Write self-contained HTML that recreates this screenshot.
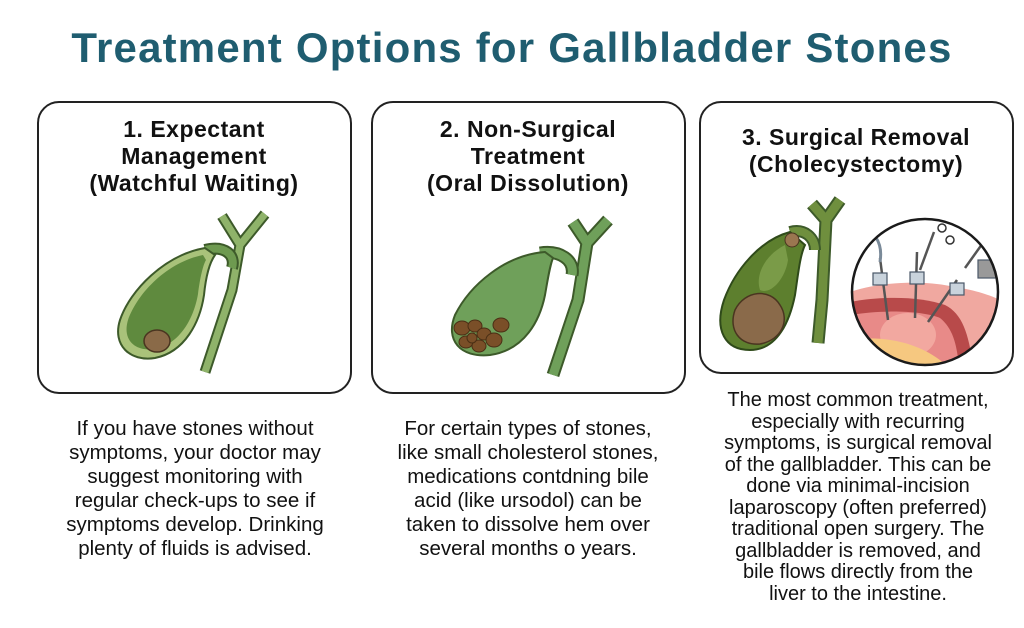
<!DOCTYPE html>
<html><head><meta charset="utf-8"><style>
body{margin:0;width:1024px;height:628px;background:#fff;position:relative;overflow:hidden;font-family:"Liberation Sans",sans-serif;color:#1a1a1a}
h1{position:absolute;left:0;top:24px;width:1024px;margin:0;text-align:center;font-size:42px;font-weight:bold;color:#1f5d70;letter-spacing:1.2px}
.box{position:absolute;border:2px solid #222;border-radius:22px;background:#fff}
.bt{position:absolute;text-align:center;font-size:23px;font-weight:bold;line-height:27px;color:#111;letter-spacing:0.5px}
.tx{position:absolute;text-align:center;font-size:20.5px;line-height:24px;color:#111}
svg{position:absolute;left:0;top:0}
</style></head><body>
<h1>Treatment Options for Gallbladder Stones</h1>
<div class="box" style="left:37px;top:101px;width:311px;height:289px"></div>
<div class="box" style="left:371px;top:101px;width:311px;height:289px"></div>
<div class="box" style="left:699px;top:101px;width:311px;height:269px"></div>
<div class="bt" style="left:38px;top:116px;width:312px">1. Expectant<br>Management<br>(Watchful Waiting)</div>
<div class="bt" style="left:372px;top:116px;width:312px">2. Non-Surgical<br>Treatment<br>(Oral Dissolution)</div>
<div class="bt" style="left:700px;top:124px;width:312px">3. Surgical Removal<br>(Cholecystectomy)</div>
<svg width="1024" height="628">
 <g>
  <path d="M222,216 L240,245 L265,214 M240,245 L232,290 L205,372" fill="none" stroke="#3d5a2a" stroke-width="11"/>
  <path d="M222,216 L240,245 L265,214 M240,245 L232,290 L205,372" fill="none" stroke="#8fb36a" stroke-width="7"/>
  <path d="M205,250 C225,245 236,255 232,268" fill="none" stroke="#3d5a2a" stroke-width="12"/>
  <path d="M205,250 C225,245 236,255 232,268" fill="none" stroke="#6e9a50" stroke-width="8"/>
  <path d="M205,248 C165,255 130,290 120,320 C112,345 130,362 155,358 C185,352 200,322 204,295 C206,275 210,262 215,255 Z" fill="#a9c27a" stroke="#3d5a2a" stroke-width="2"/>
  <path d="M203,255 C168,262 138,292 128,320 C122,340 135,352 155,349 C180,344 194,318 198,294 C200,278 203,265 206,260 Z" fill="#5f8a3e"/>
  <ellipse cx="157" cy="341" rx="13" ry="11" fill="#8a6a48" stroke="#4a3520" stroke-width="1.5"/>
 </g>
 <g>
  <path d="M573,222 L587,243 L608,220 M587,243 L578,300 L553,375" fill="none" stroke="#3d5a2a" stroke-width="13"/>
  <path d="M573,222 L587,243 L608,220 M587,243 L578,300 L553,375" fill="none" stroke="#6fa05a" stroke-width="9"/>
  <path d="M540,253 C560,250 575,260 572,275" fill="none" stroke="#3d5a2a" stroke-width="13"/>
  <path d="M540,253 C560,250 575,260 572,275" fill="none" stroke="#6fa05a" stroke-width="9"/>
  <path d="M545,252 C505,255 470,285 455,315 C445,340 460,358 490,355 C525,350 540,320 545,295 C548,278 550,265 553,258 Z" fill="#6fa05a" stroke="#3d5a2a" stroke-width="2"/>
  <g fill="#7a4f28" stroke="#4a2f15" stroke-width="1">
   <ellipse cx="462" cy="328" rx="8" ry="7"/><ellipse cx="475" cy="326" rx="7" ry="6"/><ellipse cx="484" cy="334" rx="7" ry="6"/>
   <ellipse cx="501" cy="325" rx="8" ry="7"/><ellipse cx="466" cy="342" rx="7" ry="6"/><ellipse cx="479" cy="346" rx="7" ry="6"/>
   <ellipse cx="494" cy="340" rx="8" ry="7"/><ellipse cx="472" cy="338" rx="5" ry="5"/>
  </g>
 </g>
 <g>
  <path d="M812,204 L826,220 L840,200 M826,220 L822,300 L818,343" fill="none" stroke="#3d5a2a" stroke-width="13"/>
  <path d="M812,204 L826,220 L840,200 M826,220 L822,300 L818,343" fill="none" stroke="#6f8f3e" stroke-width="9"/>
  <path d="M790,232 C805,228 815,238 815,250" fill="none" stroke="#3d5a2a" stroke-width="12"/>
  <path d="M790,232 C805,228 815,238 815,250" fill="none" stroke="#6f8f3e" stroke-width="8"/>
  <path d="M790,232 C760,240 735,270 724,300 C714,330 725,350 750,350 C778,350 790,320 795,295 C798,275 800,255 805,245 Z" fill="#5d7f2e" stroke="#2f4a1a" stroke-width="2"/>
  <path d="M785,245 C765,255 755,275 760,290 C770,295 785,280 788,260 Z" fill="#7a9b48"/>
  <path d="M735,310 C745,290 770,288 780,305 C790,320 782,340 760,344 C740,346 728,330 735,310 Z" fill="#8a6a4a" stroke="#4a3520" stroke-width="1.5"/>
  <circle cx="792" cy="240" r="7" fill="#9a7650" stroke="#4a3520"/>
  <clipPath id="c"><circle cx="925" cy="292" r="73"/></clipPath>
  <circle cx="925" cy="292" r="73" fill="#fff"/>
  <g clip-path="url(#c)">
   <path d="M850,292 C880,282 920,280 950,286 C975,290 990,295 1000,300 L1000,380 L850,380 Z" fill="#f0a8a0"/>
   <path d="M850,302 C880,296 920,296 945,305 C965,315 970,340 975,380 L850,380 Z" fill="#b84a4a"/>
   <path d="M850,315 C880,310 920,310 940,318 C955,330 958,350 960,380 L850,380 Z" fill="#e88a88"/>
   <ellipse cx="908" cy="335" rx="28" ry="22" fill="#f2a8a0"/>
   <path d="M850,340 C880,335 930,340 960,380 L850,380 Z" fill="#f6c880"/>
   <g stroke="#555" stroke-width="2.5">
    <line x1="880" y1="258" x2="888" y2="320"/><line x1="917" y1="252" x2="915" y2="318"/><line x1="957" y1="280" x2="928" y2="322"/>
    <line x1="934" y1="232" x2="920" y2="270"/><line x1="965" y1="268" x2="985" y2="240"/>
   </g>
   <path d="M870,230 C880,240 882,250 880,262" fill="none" stroke="#7a8a99" stroke-width="3"/>
   <g fill="#c9d3dc" stroke="#4a5868" stroke-width="1.2">
    <rect x="873" y="273" width="14" height="12"/><rect x="910" y="272" width="14" height="12"/><rect x="950" y="283" width="14" height="12"/>
    <rect x="978" y="260" width="18" height="18" fill="#999"/>
   </g>
   <circle cx="942" cy="228" r="4" fill="none" stroke="#333" stroke-width="1.5"/><circle cx="950" cy="240" r="4" fill="none" stroke="#333" stroke-width="1.5"/>
  </g>
  <circle cx="925" cy="292" r="73" fill="none" stroke="#1a1a1a" stroke-width="2.5"/>
 </g>
</svg>
<div class="tx" style="left:30px;top:417px;width:330px">If you have stones without<br>symptoms, your doctor may<br>suggest monitoring with<br>regular check-ups to see if<br>symptoms develop. Drinking<br>plenty of fluids is advised.</div>
<div class="tx" style="left:360px;top:417px;width:336px">For certain types of stones,<br>like small cholesterol stones,<br>medications contdning bile<br>acid (like ursodol) can be<br>taken to dissolve hem over<br>several months o years.</div>
<div class="tx" style="left:690px;top:390px;width:336px;line-height:21.5px;font-size:20px">The most common treatment,<br>especially with recurring<br>symptoms, is surgical removal<br>of the gallbladder. This can be<br>done via minimal-incision<br>laparoscopy (often preferred)<br>traditional open surgery. The<br>gallbladder is removed, and<br>bile flows directly from the<br>liver to the intestine.</div>
</body></html>
